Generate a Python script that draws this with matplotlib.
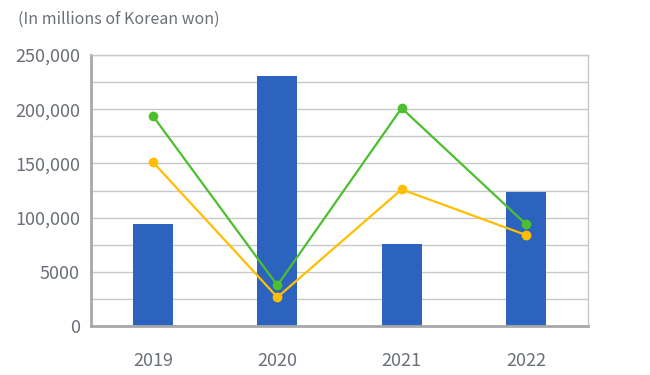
import matplotlib.pyplot as plt
import numpy as np
from matplotlib.ticker import MultipleLocator

years = ["2019", "2020", "2021", "2022"]
bar_values = [94000, 230500, 75500, 123500]
green_values = [193500, 37500, 201000, 94000]
yellow_values = [151000, 26500, 126000, 84000]

y_ticks = [0, 50000, 100000, 150000, 200000, 250000]
y_tick_labels = ["0", "5000", "100,000", "150,000", "200,000", "250,000"]

plt.rcParams["font.family"] = ["Noto Sans CJK KR", "DejaVu Sans"]
text_color = "#6b6f78"

fig = plt.figure(figsize=(6.5, 3.75), dpi=100)
ax = fig.add_axes([91 / 650, 1 - 326 / 375, 497 / 650, 271 / 375])

x = np.arange(len(years))
ax.bar(x, bar_values, width=0.32, color="#2c63be", zorder=2)
ax.plot(x, green_values, color="#4cbf2e", lw=1.6, marker="o", ms=6, zorder=3)
ax.plot(x, yellow_values, color="#ffbf00", lw=1.6, marker="o", ms=6, zorder=3)

ax.set_xlim(-0.5, 3.5)
ax.set_ylim(0, 250000)
ax.set_xticks(x)
ax.set_xticklabels(years)
ax.set_yticks(y_ticks)
ax.set_yticklabels(y_tick_labels)
ax.yaxis.set_minor_locator(MultipleLocator(25000))
ax.grid(axis="y", which="both", color="#c8c8c8", lw=1, zorder=0)
ax.tick_params(axis="both", which="both", length=0, colors=text_color, labelsize=13)
ax.tick_params(axis="x", pad=19)
ax.tick_params(axis="y", pad=8)

for side in ["top", "right"]:
    ax.spines[side].set_color("#c8c8c8")
    ax.spines[side].set_linewidth(1)
for side in ["left", "bottom"]:
    ax.spines[side].set_color("#a8a8a8")
    ax.spines[side].set_linewidth(2)

fig.text(18 / 650, 1 - 19 / 375, "(In millions of Korean won)", color=text_color,
         fontsize=11.5, va="center", ha="left")

fig.savefig("out.png", dpi=100)
